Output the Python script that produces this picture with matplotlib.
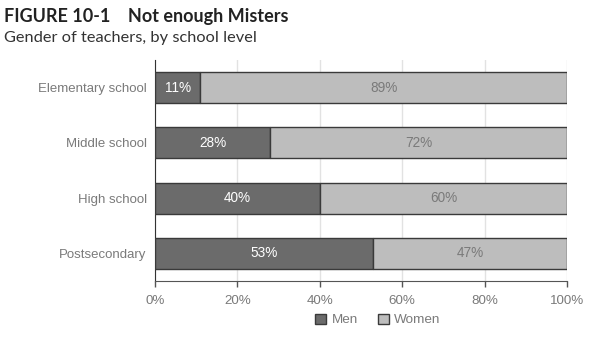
import numpy as np
import matplotlib.pyplot as plt
from matplotlib.patches import Patch

levels = ["Elementary school", "Middle school", "High school", "Postsecondary"]
men = [11, 28, 40, 53]
women = [89, 72, 60, 47]
ticks = [0, 20, 40, 60, 80, 100]

c_men = "#6b6b6b"
c_women = "#bdbdbd"
c_edge = "#3a3a3a"
c_text = "#7a7a7a"

plt.rcParams["font.family"] = ["Liberation Sans", "DejaVu Sans"]

fig = plt.figure(figsize=(6.11, 3.44), dpi=100)
ax = fig.add_axes([155 / 611, 1 - 281 / 344, (567 - 155) / 611, (281 - 60) / 344])

y = np.arange(len(levels))
ax.barh(y, men, height=0.56, color=c_men, edgecolor=c_edge, linewidth=1, zorder=3)
ax.barh(y, women, left=men, height=0.56, color=c_women, edgecolor=c_edge, linewidth=1, zorder=3)

for yi, m, w in zip(y, men, women):
    ax.text(m / 2, yi, f"{m}%", ha="center", va="center", color="white", fontsize=9.8, zorder=4)
    ax.text(m + w / 2, yi, f"{w}%", ha="center", va="center", color=c_text, fontsize=9.8, zorder=4)

ax.set_xlim(0, 100)
ax.set_ylim(3.5, -0.5)
ax.set_yticks(y)
ax.set_yticklabels(levels)
ax.set_xticks(ticks)
ax.set_xticklabels([f"{t}%" for t in ticks])
ax.tick_params(axis="y", length=0, pad=6, labelsize=9.5, labelcolor=c_text)
ax.tick_params(axis="x", length=4, width=1, color="#555555", pad=6, labelsize=9.6, labelcolor=c_text)
ax.grid(axis="x", color="#e2e2e2", linewidth=1, zorder=0)

for s in ["top", "right"]:
    ax.spines[s].set_visible(False)
ax.spines["left"].set_color("#333333")
ax.spines["bottom"].set_color("#555555")

handles = [Patch(facecolor=c_men, edgecolor=c_edge, label="Men"),
           Patch(facecolor=c_women, edgecolor=c_edge, label="Women")]
leg = fig.legend(handles=handles, loc="center", bbox_to_anchor=(378 / 611, 1 - 320 / 344), ncol=2,
                 frameon=False, fontsize=9.7, handlelength=0.8, handleheight=0.8,
                 handletextpad=0.4, columnspacing=1.5)
for t in leg.get_texts():
    t.set_color(c_text)

fig.text(4 / 611, 1 - 22 / 344, "FIGURE 10-1    Not enough Misters", fontsize=13, fontweight="bold",
         color="#222222", family=["Lato", "DejaVu Sans"])
fig.text(4 / 611, 1 - 42 / 344, "Gender of teachers, by school level", fontsize=11.8,
         color="#333333", family=["Lato", "DejaVu Sans"])

fig.savefig("out.png", dpi=100)
